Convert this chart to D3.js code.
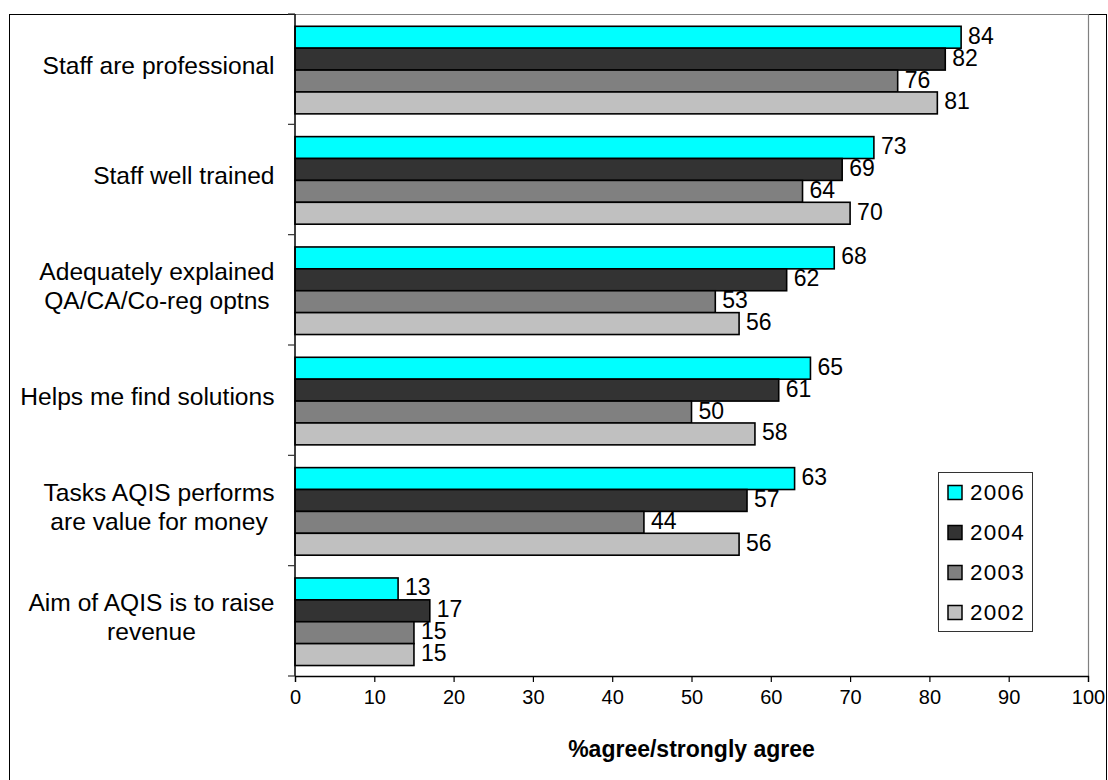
<!DOCTYPE html>
<html>
<head>
<meta charset="utf-8">
<script src="https://cdn.jsdelivr.net/npm/d3@7"></script>
<style>
  html, body { margin: 0; padding: 0; background: #fff; }
  svg { display: block; font-family: "Liberation Sans", Arial, sans-serif; }
</style>
</head>
<body>
<svg id="chart" width="1108" height="780"></svg>
<script>
// Survey statements (line breaks mark where a label wraps)
const categories = [
  "Staff are professional",
  "Staff well trained",
  "Adequately explained\nQA/CA/Co-reg optns",
  "Helps me find solutions",
  "Tasks AQIS performs\nare value for money",
  "Aim of AQIS is to raise\nrevenue"
];

// Survey years, in the order the bars are stacked within each group
const years = ["2006", "2004", "2003", "2002"];

// % agree / strongly agree, one array per year
const values2006 = [84, 73, 68, 65, 63, 13];
const values2004 = [82, 69, 62, 61, 57, 17];
const values2003 = [76, 64, 53, 50, 44, 15];
const values2002 = [81, 70, 56, 58, 56, 15];

const xTicks = [0, 10, 20, 30, 40, 50, 60, 70, 80, 90, 100];
const axisTitle = "%agree/strongly agree";

const seriesValues = { "2006": values2006, "2004": values2004, "2003": values2003, "2002": values2002 };
const colors = { "2006": "#00FFFF", "2004": "#333333", "2003": "#808080", "2002": "#C0C0C0" };

const svg = d3.select("#chart");

// Plot area
const plot = { left: 295, right: 1088, top: 14, bottom: 676 };

const x = d3.scaleLinear().domain([0, 100]).range([plot.left, plot.right]);
const y0 = d3.scaleBand().domain(categories).range([plot.top, plot.bottom]).padding(0);
const y1 = d3.scaleBand().domain(years).range([0, y0.bandwidth()])
  .paddingInner(0).paddingOuter(0.52).align(0.54);

// Outer chart frame
svg.append("rect")
  .attr("x", 9.5).attr("y", 14.5)
  .attr("width", 1097).attr("height", 800)
  .attr("fill", "#fff").attr("stroke", "#000").attr("stroke-width", 1);

// Plot border (top and right)
svg.append("path")
  .attr("d", `M${plot.left},${plot.top + 0.5}H${plot.right + 0.5}V${plot.bottom}`)
  .attr("fill", "none").attr("stroke", "#808080").attr("stroke-width", 1.2);

// Bars
const rows = [];
categories.forEach((c, i) => {
  years.forEach(yr => rows.push({ cat: c, year: yr, value: seriesValues[yr][i] }));
});

const groups = svg.append("g");
groups.selectAll("rect.bar")
  .data(rows)
  .join("rect")
  .attr("class", "bar")
  .attr("x", x(0))
  .attr("y", d => y0(d.cat) + y1(d.year))
  .attr("width", d => x(d.value) - x(0))
  .attr("height", y1.bandwidth())
  .attr("fill", d => colors[d.year])
  .attr("stroke", "#000")
  .attr("stroke-width", 1.6);

// Value labels
groups.selectAll("text.val")
  .data(rows)
  .join("text")
  .attr("class", "val")
  .attr("x", d => x(d.value) + 7)
  .attr("y", d => y0(d.cat) + y1(d.year) + y1.bandwidth() / 2 + 6.5)
  .attr("font-size", 23)
  .attr("fill", "#000")
  .text(d => d.value);

// X axis
const xAxis = d3.axisBottom(x).tickValues(xTicks).tickSize(6).tickPadding(8).tickFormat(d3.format("d"));
const gx = svg.append("g")
  .attr("transform", `translate(0,${plot.bottom})`)
  .call(xAxis);
gx.select(".domain").attr("stroke", "#000").attr("stroke-width", 1.3);
gx.selectAll(".tick line").attr("stroke", "#000").attr("stroke-width", 1.2);
gx.selectAll(".tick text")
  .attr("font-size", 20)
  .attr("font-family", "Liberation Sans, Arial, sans-serif")
  .attr("fill", "#000");

// Y axis: line plus ticks at category boundaries
svg.append("line")
  .attr("x1", plot.left).attr("x2", plot.left)
  .attr("y1", plot.top).attr("y2", plot.bottom)
  .attr("stroke", "#000").attr("stroke-width", 1.5);

const boundaries = categories.map(c => y0(c)).concat([plot.bottom]);
svg.selectAll("line.ytick")
  .data(boundaries)
  .join("line")
  .attr("class", "ytick")
  .attr("x1", plot.left - 7).attr("x2", plot.left)
  .attr("y1", d => d).attr("y2", d => d)
  .attr("stroke", "#333").attr("stroke-width", 1.2);

// Category labels: lines centred within a right-aligned block
const labelRight = 274.5;
const lineGap = 29.5;
categories.forEach(c => {
  const lines = c.split("\n");
  const cy = y0(c) + y0.bandwidth() / 2 - 4;
  const t = svg.append("text")
    .attr("font-size", 24.6)
    .attr("fill", "#000")
    .attr("text-anchor", "middle");
  lines.forEach((ln, i) => {
    t.append("tspan")
      .attr("x", 0)
      .attr("y", cy + (i - (lines.length - 1) / 2) * lineGap + 8.8)
      .text(ln);
  });
  let w = 0;
  t.selectAll("tspan").each(function () { w = Math.max(w, this.getComputedTextLength()); });
  t.selectAll("tspan").attr("x", labelRight - w / 2);
});

// Axis title
svg.append("text")
  .attr("x", (plot.left + plot.right) / 2)
  .attr("y", 757)
  .attr("text-anchor", "middle")
  .attr("font-size", 23)
  .attr("font-weight", "bold")
  .attr("fill", "#000")
  .text(axisTitle);

// Legend
const legend = svg.append("g");
legend.append("rect")
  .attr("x", 938.5).attr("y", 472.5)
  .attr("width", 94).attr("height", 159)
  .attr("fill", "#fff").attr("stroke", "#333").attr("stroke-width", 1);

const items = legend.selectAll("g.item")
  .data(years)
  .join("g")
  .attr("class", "item")
  .attr("transform", (d, i) => `translate(0,${492.5 + i * 40})`);

items.append("rect")
  .attr("x", 948).attr("y", -7)
  .attr("width", 14).attr("height", 14)
  .attr("fill", d => colors[d])
  .attr("stroke", "#000").attr("stroke-width", 1.5);

items.append("text")
  .attr("x", 970)
  .attr("y", 7)
  .attr("font-size", 22.5)
  .attr("fill", "#000")
  .attr("letter-spacing", 1.2)
  .text(d => d);
</script>
</body>
</html>
